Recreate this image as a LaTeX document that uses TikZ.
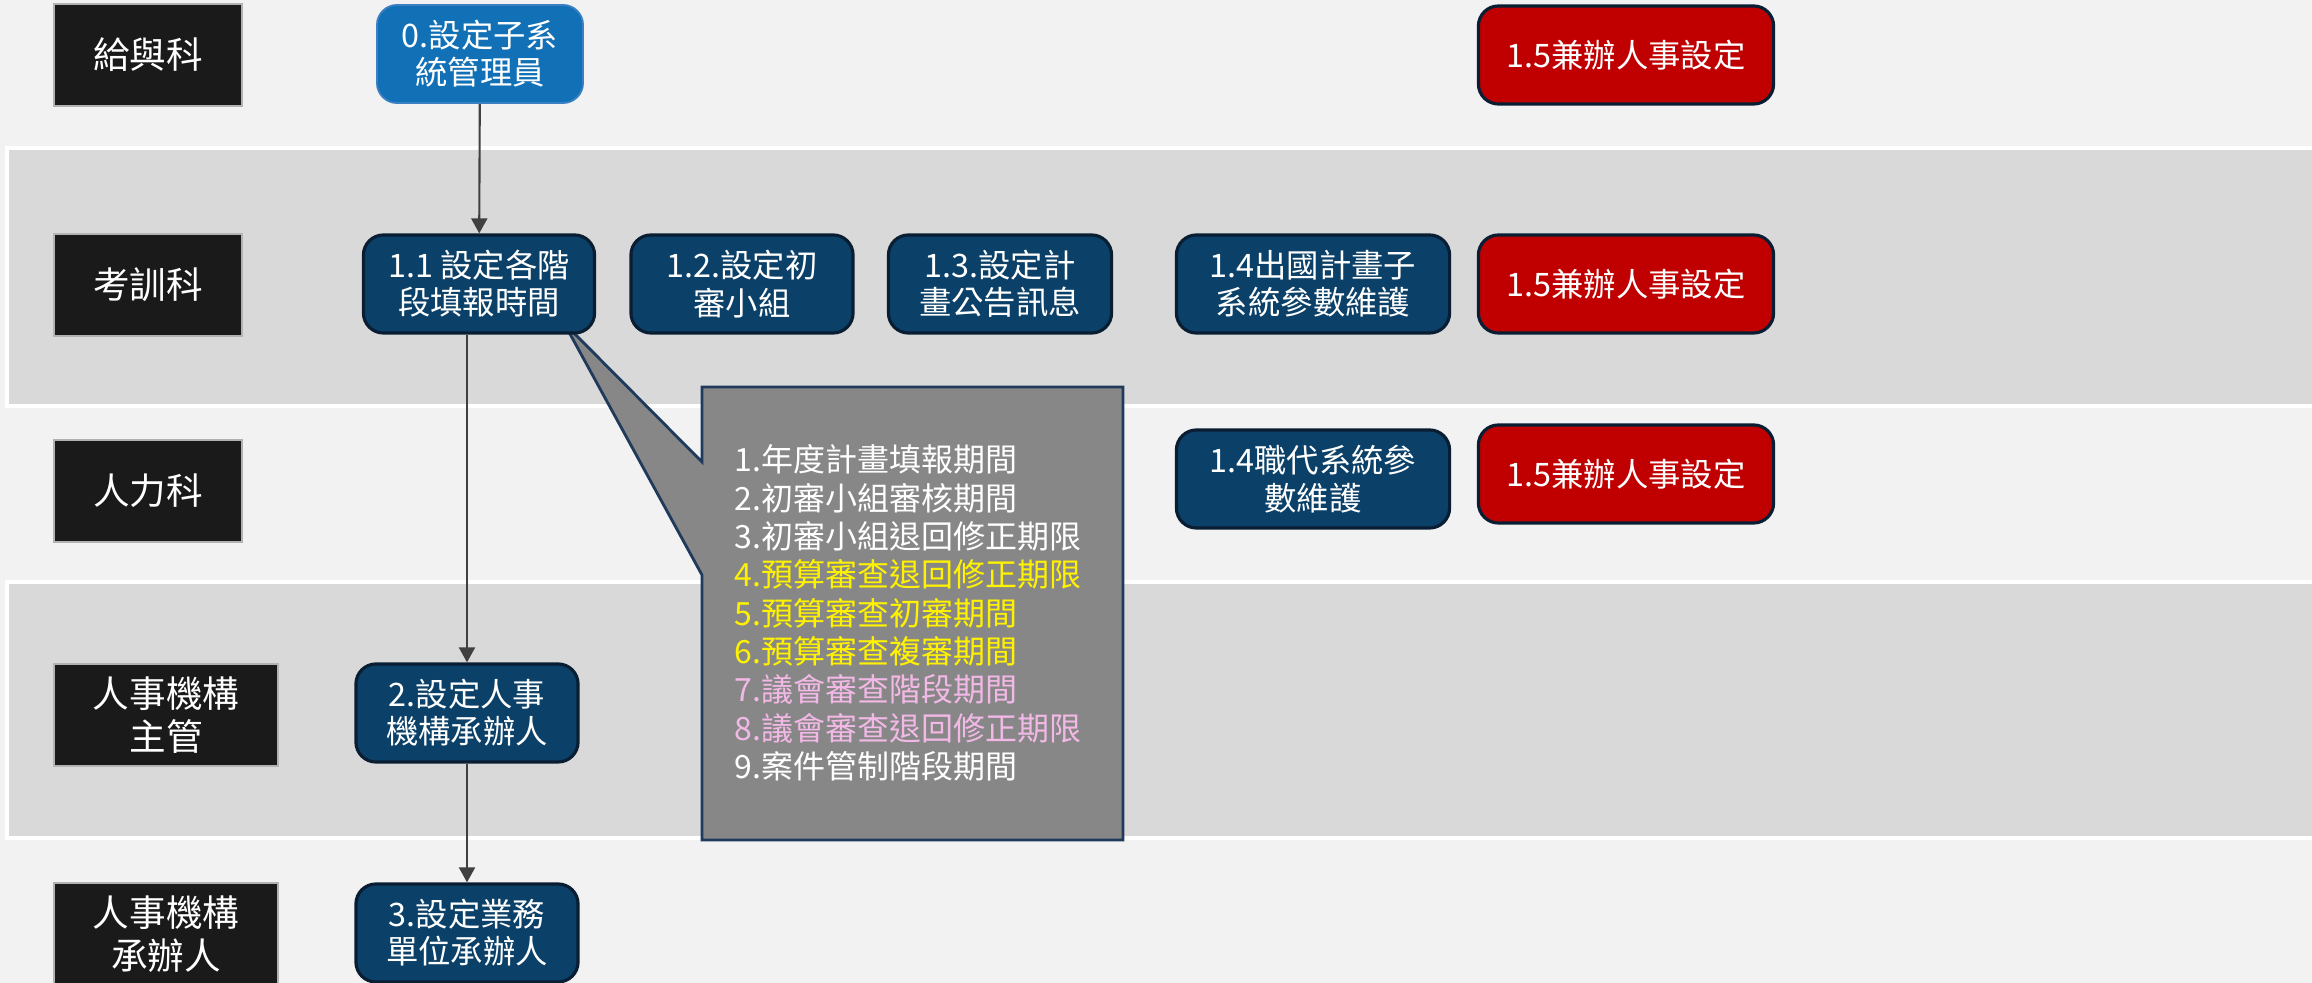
\documentclass[tikz,border=0pt]{standalone}
\usepackage{fontspec}
\setmainfont{Noto Sans CJK TC}
\usetikzlibrary{arrows.meta}
\definecolor{pagebg}{HTML}{F2F2F2}
\definecolor{laneband}{HTML}{D9D9D9}
\definecolor{navybox}{HTML}{0B4068}
\definecolor{navyline}{HTML}{0A1E33}
\definecolor{skybox}{HTML}{1170B6}
\definecolor{skyline}{HTML}{3A80C2}
\definecolor{redbox}{HTML}{C00000}
\definecolor{labelbox}{HTML}{1A1A1A}
\definecolor{memogray}{HTML}{878787}
\definecolor{memoline}{HTML}{1F3A5A}
\definecolor{memopink}{HTML}{F2B8E6}
\definecolor{flowline}{HTML}{404040}

\begin{document}
\begin{tikzpicture}[x=0.01cm,y=-0.01cm,
    lane/.style={fill=laneband,draw=white,line width=1pt},
    dept/.style={fill=labelbox,draw=gray!60,line width=0.4pt,text=white,align=center,
        minimum width=1.88cm,minimum height=1.02cm,font=\fontsize{10.4}{12.2}\selectfont},
    task/.style={fill=navybox,draw=navyline,line width=0.9pt,rounded corners=0.2cm,
        text=white,align=center,minimum height=0.98cm,font=\fontsize{9.2}{10.6}\selectfont},
    admin/.style={task,fill=skybox,draw=skyline,line width=0.5pt},
    duty/.style={task,fill=redbox,minimum width=2.95cm},
    memo/.style={fill=memogray,draw=memoline,line width=0.8pt},
    flow/.style={draw=flowline,line width=0.6pt,-{Triangle[width=0.16cm,length=0.15cm]}}]
        \useasboundingbox (0,0) rectangle (2312,983);
        \fill[pagebg] (0,0) rectangle (2312,983);
        \path[lane] (7,148) rectangle (2320,406);
        \path[lane] (7,582) rectangle (2320,838);

        % callout with its pointer
        \path[memo] (702,387) -- (1123,387) -- (1123,840) -- (702,840) -- (702,575)
            -- (564,323) -- (702,462) -- cycle;
        \node[anchor=west,align=left,text=white,font=\fontsize{9.1}{10.9}\selectfont] (memo) at (722,613)
            {1.年度計畫填報期間\\2.初審小組審核期間\\3.初審小組退回修正期限\\
             \textcolor{yellow}{4.預算審查退回修正期限}\\\textcolor{yellow}{5.預算審查初審期間}\\
             \textcolor{yellow}{6.預算審查複審期間}\\\textcolor{memopink}{7.議會審查階段期間}\\
             \textcolor{memopink}{8.議會審查退回修正期限}\\9.案件管制階段期間};

        \node[dept] (d1) at (148,55) {給與科};
        \node[dept] (d2) at (148,285) {考訓科};
        \node[dept] (d3) at (148,491) {人力科};
        \node[dept,minimum width=2.24cm] (d4) at (166,715) {人事機構\\主管};
        \node[dept,minimum width=2.24cm] (d5) at (166,934) {人事機構\\承辦人};

        \node[admin,minimum width=2.06cm] (n0) at (480,54) {0.設定子系\\統管理員};
        \node[duty] (n15) at (1626,55) {1.5兼辦人事設定};
        \node[task,minimum width=2.31cm] (n11) at (479,284) {1.1 設定各階\\段填報時間};
        \node[task,minimum width=2.22cm] (n12) at (742,284) {1.2.設定初\\審小組};
        \node[task,minimum width=2.23cm] (n13) at (1000,284) {1.3.設定計\\畫公告訊息};
        \node[task,minimum width=2.73cm] (n14) at (1313,284) {1.4出國計畫子\\系統參數維護};
        \node[duty] (n15a) at (1626,284) {1.5兼辦人事設定};
        \node[task,minimum width=2.73cm] (n14b) at (1313,479) {1.4職代系統參\\數維護};
        \node[duty] (n15b) at (1626,474) {1.5兼辦人事設定};
        \node[task,minimum width=2.22cm] (n2) at (467,713) {2.設定人事\\機構承辦人};
        \node[task,minimum width=2.22cm] (n3) at (467,933) {3.設定業務\\單位承辦人};

        \path[flow] (n0) -- (n11);
        \path[flow] (n11.south -| n2) -- (n2);
        \path[flow] (n2) -- (n3);
    \end{tikzpicture}
\end{document}
